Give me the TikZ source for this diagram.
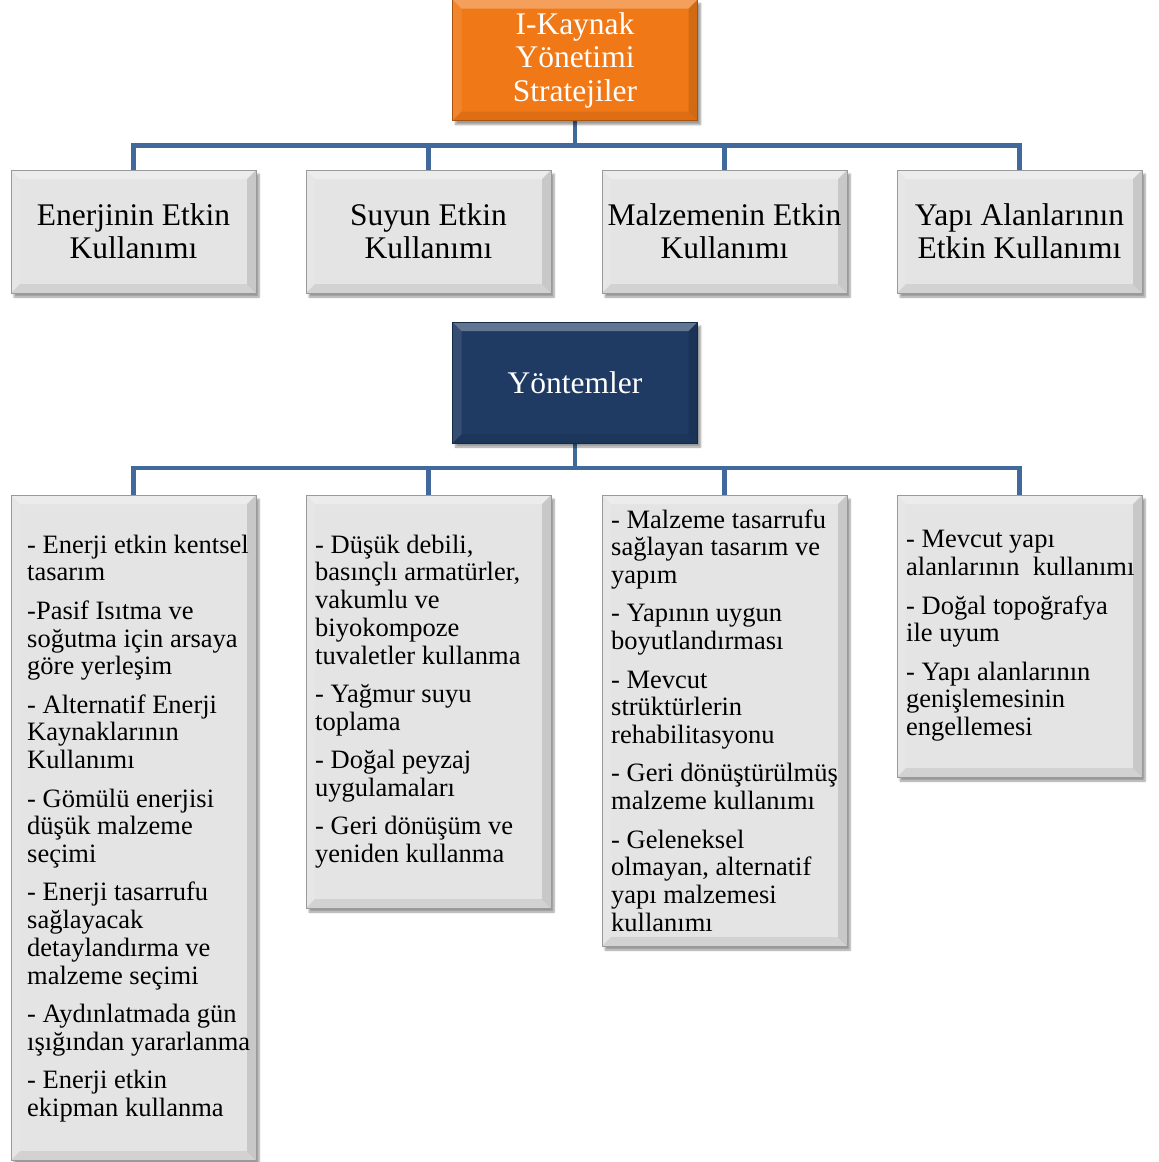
\documentclass[tikz,border=0pt]{standalone}
\usepackage{fontspec}
\setmainfont{Liberation Serif}
\usetikzlibrary{shadows.blur,backgrounds}

\definecolor{connblue}{HTML}{41699B}
\definecolor{boxorange}{HTML}{F07816}
\definecolor{boxnavy}{HTML}{1F3B63}
\definecolor{boxgrey}{HTML}{E4E4E4}
\definecolor{edgegrey}{HTML}{9A9A9A}

\tikzset{
  % bevelled face: light top/left strips, dark bottom/right strips
  bevel/.style={path picture={
    \def\bw{9pt}
    \fill[white,opacity=.3] (path picture bounding box.north west) -- (path picture bounding box.north east)
      -- ([xshift=-\bw,yshift=-\bw]path picture bounding box.north east)
      -- ([xshift=\bw,yshift=-\bw]path picture bounding box.north west) -- cycle;
    \fill[white,opacity=.1] (path picture bounding box.north west)
      -- ([xshift=\bw,yshift=-\bw]path picture bounding box.north west)
      -- ([xshift=\bw,yshift=\bw]path picture bounding box.south west)
      -- (path picture bounding box.south west) -- cycle;
    \fill[black,opacity=.08] (path picture bounding box.south west) -- (path picture bounding box.south east)
      -- ([xshift=-\bw,yshift=\bw]path picture bounding box.south east)
      -- ([xshift=\bw,yshift=\bw]path picture bounding box.south west) -- cycle;
    \fill[black,opacity=.12] (path picture bounding box.north east)
      -- ([xshift=-\bw,yshift=-\bw]path picture bounding box.north east)
      -- ([xshift=-\bw,yshift=\bw]path picture bounding box.south east)
      -- (path picture bounding box.south east) -- cycle;
  }},
  panel/.style={rectangle, inner sep=0pt, outer sep=0pt, bevel,
    blur shadow={shadow xshift=3pt, shadow yshift=-4pt, shadow blur steps=6, shadow opacity=40},
    minimum width=245pt},
  headbox/.style={panel, draw=#1!70!black, line width=0.6pt, fill=#1, text=white, align=center,
    minimum height=121pt, font=\fontsize{31.5}{33.5}\selectfont},
  topicbox/.style={panel, draw=edgegrey, line width=0.6pt, fill=boxgrey, align=center,
    minimum height=123pt, font=\fontsize{31.5}{33}\selectfont},
  listbox/.style={panel, draw=edgegrey, line width=0.6pt, fill=boxgrey},
  listtext/.style={anchor=west, inner sep=0pt, align=left, font=\fontsize{26.5}{27.8}\selectfont},
  conn/.style={draw=connblue, line width=4.5pt, line cap=rect}
}

\newcommand{\gap}{\\[10.5pt]}

\begin{document}
\begin{tikzpicture}[x=1pt,y=-1pt]
\useasboundingbox (0,0) rectangle (1159,1162);

% strategies header and its four topics
\node[headbox=boxorange] (top) at (575,60) {I-Kaynak\\Yönetimi\\Stratejiler};

\node[topicbox] (s1) at (133.5,231.5) {Enerjinin Etkin\\Kullanımı};
\node[topicbox] (s2) at (428.5,231.5) {Suyun Etkin\\Kullanımı};
\node[topicbox] (s3) at (724.5,231.5) {Malzemenin Etkin\\Kullanımı};
\node[topicbox] (s4) at (1019.5,231.5) {Yapı Alanlarının\\Etkin Kullanımı};

% methods header
\node[headbox=boxnavy] (mid) at (575,382.5) {Yöntemler};

% method panels
\node[listbox, minimum height=665pt] (m1) at (133.5,827.5) {};
\node[listbox, minimum height=413pt] (m2) at (428.5,701.5) {};
\node[listbox, minimum height=451pt] (m3) at (724.5,720.5) {};
\node[listbox, minimum height=282pt] (m4) at (1019.5,636) {};

% connectors, kept behind the boxes
\begin{scope}[on background layer]
\foreach \c in {s1,s2,s3,s4}
  \draw[conn] (top.south) -- ++(0,25) -| (\c.north);
\foreach \c in {m1,m2,m3,m4}
  \draw[conn] (mid.south) -- ++(0,25) -| (\c.north);
\end{scope}

% method texts
\node[listtext] (t1) at ([xshift=16pt,yshift=-1pt]m1.west) {%
- Enerji etkin kentsel\\tasarım\gap
-Pasif Isıtma ve\\soğutma için arsaya\\göre yerleşim\gap
- Alternatif Enerji\\Kaynaklarının\\Kullanımı\gap
- Gömülü enerjisi\\düşük malzeme\\seçimi\gap
- Enerji tasarrufu\\sağlayacak\\detaylandırma ve\\malzeme seçimi\gap
- Aydınlatmada gün\\ışığından yararlanma\gap
- Enerji etkin\\ekipman kullanma};

\node[listtext] (t2) at ([xshift=9pt]m2.west) {%
- Düşük debili,\\basınçlı armatürler,\\vakumlu ve\\biyokompoze\\tuvaletler kullanma\gap
- Yağmur suyu\\toplama\gap
- Doğal peyzaj\\uygulamaları\gap
- Geri dönüşüm ve\\yeniden kullanma};

\node[listtext] (t3) at ([xshift=9pt]m3.west) {%
- Malzeme tasarrufu\\sağlayan tasarım ve\\yapım\gap
- Yapının uygun\\boyutlandırması\gap
- Mevcut\\strüktürlerin\\rehabilitasyonu\gap
- Geri dönüştürülmüş\\malzeme kullanımı\gap
- Geleneksel\\olmayan, alternatif\\yapı malzemesi\\kullanımı};

\node[listtext] (t4) at ([xshift=9pt]m4.west) {%
- Mevcut yapı\\alanlarının\ \ kullanımı\gap
- Doğal topoğrafya\\ile uyum\gap
- Yapı alanlarının\\genişlemesinin\\engellemesi};
\end{tikzpicture}
\end{document}
